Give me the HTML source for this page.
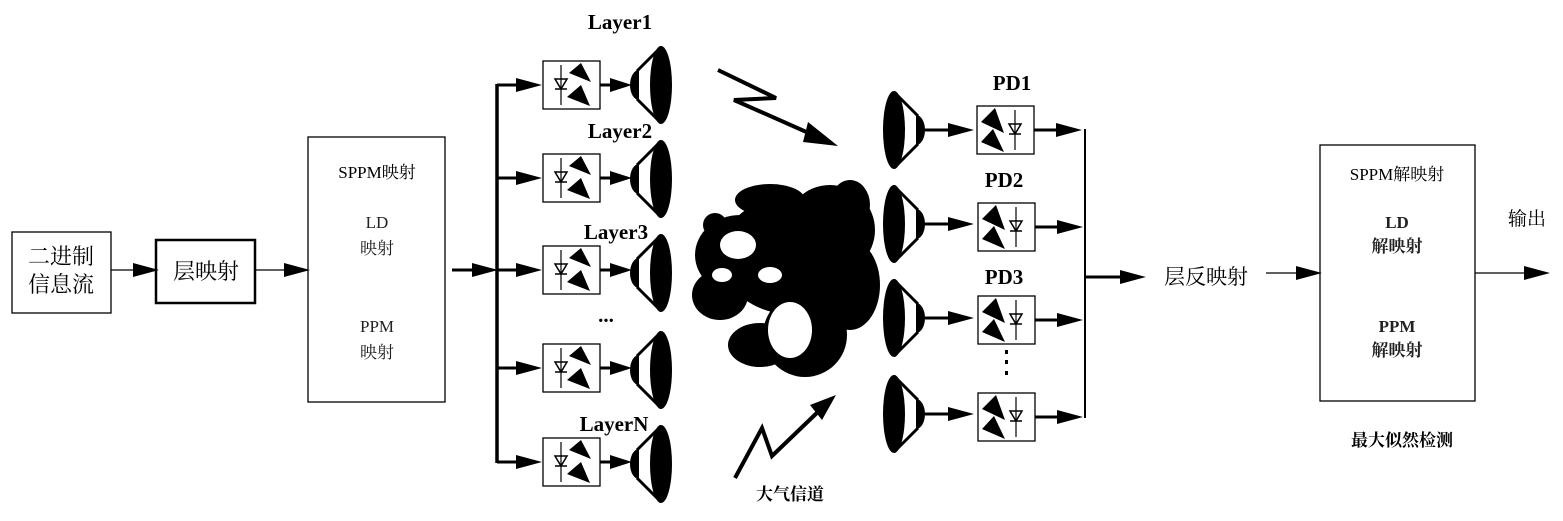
<!DOCTYPE html>
<html><head><meta charset="utf-8"><style>
body{margin:0;background:#fff}
svg{display:block}
text{font-family:"Liberation Serif","Noto Serif CJK SC",serif;fill:#000}
.b{font-weight:bold}
.g{fill:#222}
</style></head><body>
<svg width="1563" height="521" viewBox="0 0 1563 521" xmlns="http://www.w3.org/2000/svg">
<defs>
<g id="arr"><polygon points="0,-7 26,0 0,7" fill="#000"/></g>
<g id="tx">
 <rect x="0" y="-24" width="57" height="48" fill="#fff" stroke="#000" stroke-width="1.3"/>
 <line x1="18" y1="-20" x2="18" y2="20" stroke="#000" stroke-width="1.2"/>
 <polygon points="12,-6 24,-6 18,4" fill="none" stroke="#000" stroke-width="1.5"/>
 <line x1="12" y1="4" x2="24" y2="4" stroke="#000" stroke-width="1.5"/>
 <polygon points="26,-12 38,-22 48,-3" fill="#000"/>
 <polygon points="24,12 38,0 47,21" fill="#000"/>
</g>
<g id="rx">
 <rect x="0" y="-24" width="57" height="48" fill="#fff" stroke="#000" stroke-width="1.3"/>
 <line x1="38" y1="-20" x2="38" y2="20" stroke="#000" stroke-width="1.2"/>
 <polygon points="32,-6 44,-6 38,4" fill="none" stroke="#000" stroke-width="1.5"/>
 <line x1="32" y1="4" x2="44" y2="4" stroke="#000" stroke-width="1.5"/>
 <polygon points="4,-8 18,-22 27,3" fill="#000"/>
 <polygon points="4,12 16,-1 27,22" fill="#000"/>
</g>
<g id="spk">
 <ellipse cx="31" cy="0" rx="11" ry="39" fill="#000"/>
 <path d="M31,-38 L7,-14 M31,38 L7,14" stroke="#000" stroke-width="3" fill="none"/>
 <path d="M9,-15 A9,15 0 0 0 9,15 Z" fill="#000"/>
</g>
</defs>

<rect x="12" y="232" width="99" height="81" fill="none" stroke="#000" stroke-width="1.3"/>
<text x="61" y="264" font-size="22" text-anchor="middle">二进制</text>
<text x="61" y="292" font-size="22" text-anchor="middle">信息流</text>
<line x1="111" y1="270" x2="140" y2="270" stroke="#000" stroke-width="1.3"/>
<use href="#arr" x="133" y="270"/>
<rect x="156" y="240" width="99" height="63" fill="none" stroke="#000" stroke-width="2.5"/>
<text x="206" y="279" font-size="22" text-anchor="middle">层映射</text>
<line x1="255" y1="270" x2="290" y2="270" stroke="#000" stroke-width="1.3"/>
<use href="#arr" x="284" y="270"/>
<rect x="308" y="137" width="137" height="265" fill="none" stroke="#000" stroke-width="1.3"/>
<text x="377" y="178" font-size="17" text-anchor="middle">SPPM映射</text>
<text x="377" y="228" font-size="17" text-anchor="middle" class="g">LD</text>
<text x="377" y="254" font-size="17" text-anchor="middle" class="g">映射</text>
<text x="377" y="332" font-size="17" text-anchor="middle" class="g">PPM</text>
<text x="377" y="358" font-size="17" text-anchor="middle" class="g">映射</text>
<line x1="452" y1="270" x2="475" y2="270" stroke="#000" stroke-width="3"/>
<use href="#arr" x="472" y="270"/>

<line x1="497" y1="84" x2="497" y2="463" stroke="#000" stroke-width="3.5"/>
<g stroke="#000" stroke-width="3">
<line x1="497" y1="85" x2="520" y2="85"/><line x1="497" y1="178" x2="520" y2="178"/>
<line x1="497" y1="270" x2="520" y2="270"/><line x1="497" y1="368" x2="520" y2="368"/>
<line x1="497" y1="462" x2="520" y2="462"/>
</g>
<use href="#arr" x="516" y="85"/><use href="#arr" x="516" y="178"/><use href="#arr" x="516" y="270"/><use href="#arr" x="516" y="368"/><use href="#arr" x="516" y="462"/>
<use href="#tx" x="543" y="85"/><use href="#tx" x="543" y="178"/><use href="#tx" x="543" y="270"/><use href="#tx" x="543" y="368"/><use href="#tx" x="543" y="462"/>
<g stroke="#000" stroke-width="3">
<line x1="600" y1="85" x2="615" y2="85"/><line x1="600" y1="178" x2="615" y2="178"/><line x1="600" y1="270" x2="615" y2="270"/><line x1="600" y1="368" x2="615" y2="368"/><line x1="600" y1="462" x2="615" y2="462"/>
</g>
<g transform="translate(610,0)">
<polygon points="0,78 22,85 0,92"/><polygon points="0,171 22,178 0,185"/><polygon points="0,263 22,270 0,277"/><polygon points="0,361 22,368 0,375"/><polygon points="0,455 22,462 0,469"/>
</g>
<use href="#spk" x="630" y="85"/><use href="#spk" x="630" y="179"/><use href="#spk" x="630" y="273"/><use href="#spk" x="630" y="370"/><use href="#spk" x="630" y="464"/>
<text x="620" y="29" font-size="21" class="b" text-anchor="middle">Layer1</text>
<text x="620" y="138" font-size="21" class="b" text-anchor="middle">Layer2</text>
<text x="616" y="239" font-size="21" class="b" text-anchor="middle">Layer3</text>
<text x="606" y="322" font-size="21" class="b" text-anchor="middle">...</text>
<text x="614" y="431" font-size="21" class="b" text-anchor="middle">LayerN</text>

<polyline points="718,70 776,98 734,100 820,138" fill="none" stroke="#000" stroke-width="4"/>
<polygon points="808,122 838,146 803,142" fill="#000"/>
<polyline points="735,478 762,428 772,456 822,408" fill="none" stroke="#000" stroke-width="4"/>
<polygon points="810,405 836,395 822,420" fill="#000"/>
<text x="790" y="500" font-size="17" class="b" text-anchor="middle">大气信道</text>

<g fill="#000">
<ellipse cx="795" cy="255" rx="75" ry="60"/>
<ellipse cx="830" cy="230" rx="45" ry="45"/>
<ellipse cx="850" cy="285" rx="30" ry="45"/>
<ellipse cx="740" cy="255" rx="45" ry="40"/>
<ellipse cx="770" cy="200" rx="35" ry="16"/>
<ellipse cx="805" cy="335" rx="42" ry="42"/>
<ellipse cx="720" cy="295" rx="28" ry="25"/>
<ellipse cx="760" cy="345" rx="32" ry="22"/>
<ellipse cx="850" cy="205" rx="20" ry="25"/>
<ellipse cx="715" cy="225" rx="12" ry="12"/>
</g>
<g fill="#fff">
<ellipse cx="738" cy="245" rx="18" ry="14"/>
<ellipse cx="790" cy="330" rx="22" ry="28"/>
<ellipse cx="770" cy="275" rx="12" ry="8"/>
<ellipse cx="722" cy="275" rx="10" ry="7"/>
</g>

<g transform="translate(925,0) scale(-1,1)">
<use href="#spk" x="0" y="130"/><use href="#spk" x="0" y="224"/><use href="#spk" x="0" y="318"/><use href="#spk" x="0" y="414"/>
</g>
<g stroke="#000" stroke-width="3">
<line x1="925" y1="130" x2="950" y2="130"/><line x1="925" y1="224" x2="950" y2="224"/><line x1="925" y1="318" x2="950" y2="318"/><line x1="925" y1="414" x2="950" y2="414"/>
</g>
<use href="#arr" x="948" y="130"/><use href="#arr" x="948" y="224"/><use href="#arr" x="948" y="318"/><use href="#arr" x="948" y="414"/>
<use href="#rx" x="977" y="130"/><use href="#rx" x="978" y="227"/><use href="#rx" x="978" y="320"/><use href="#rx" x="978" y="417"/>
<g stroke="#000" stroke-width="3">
<line x1="1034" y1="130" x2="1058" y2="130"/><line x1="1035" y1="227" x2="1058" y2="227"/><line x1="1035" y1="320" x2="1058" y2="320"/><line x1="1035" y1="417" x2="1058" y2="417"/>
</g>
<use href="#arr" x="1056" y="130"/><use href="#arr" x="1057" y="227"/><use href="#arr" x="1057" y="320"/><use href="#arr" x="1057" y="417"/>
<text x="1012" y="90" font-size="21" class="b" text-anchor="middle">PD1</text>
<text x="1004" y="187" font-size="21" class="b" text-anchor="middle">PD2</text>
<text x="1004" y="284" font-size="21" class="b" text-anchor="middle">PD3</text>
<g fill="#000"><rect x="1005" y="350" width="3" height="4"/><rect x="1005" y="360" width="3" height="4"/><rect x="1005" y="371" width="3" height="4"/></g>
<line x1="1085" y1="129" x2="1085" y2="418" stroke="#000" stroke-width="2"/>
<line x1="1085" y1="277" x2="1125" y2="277" stroke="#000" stroke-width="3"/>
<use href="#arr" x="1120" y="277"/>
<text x="1206" y="284" font-size="21" text-anchor="middle">层反映射</text>
<line x1="1266" y1="273" x2="1300" y2="273" stroke="#000" stroke-width="1.3"/>
<use href="#arr" x="1296" y="273"/>
<rect x="1320" y="145" width="155" height="256" fill="none" stroke="#000" stroke-width="1.3"/>
<text x="1397" y="180" font-size="17" text-anchor="middle">SPPM解映射</text>
<text x="1397" y="228" font-size="17" text-anchor="middle" class="g b">LD</text>
<text x="1397" y="252" font-size="17" text-anchor="middle" class="g b">解映射</text>
<text x="1397" y="332" font-size="17" text-anchor="middle" class="g b">PPM</text>
<text x="1397" y="356" font-size="17" text-anchor="middle" class="g b">解映射</text>
<line x1="1475" y1="273" x2="1530" y2="273" stroke="#000" stroke-width="1.3"/>
<use href="#arr" x="1524" y="273"/>
<text x="1527" y="225" font-size="19" text-anchor="middle">输出</text>
<text x="1402" y="446" font-size="17" class="b" text-anchor="middle">最大似然检测</text>
</svg>
</body></html>
